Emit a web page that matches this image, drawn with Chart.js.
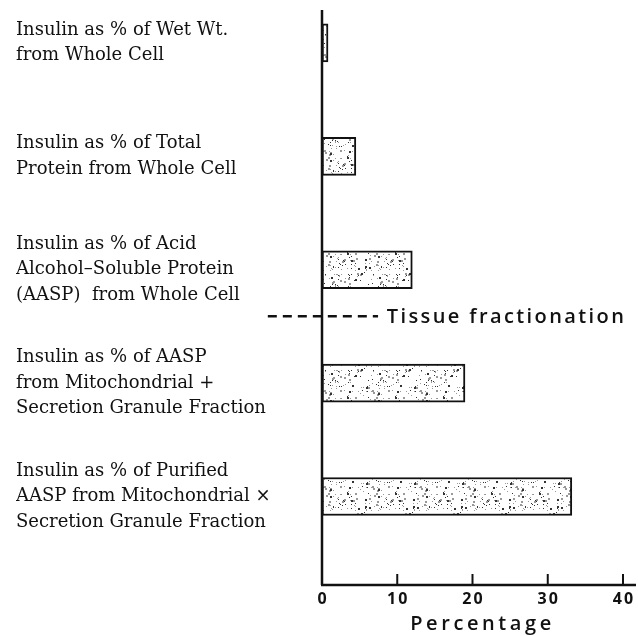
<!DOCTYPE html>
<html><head><meta charset="utf-8">
<script src="https://cdn.jsdelivr.net/npm/chart.js@4"></script>
<style>html,body{margin:0;padding:0;background:#fff}#wrap{width:638px;height:636px}</style>
</head><body><div id="wrap"><canvas id="c" width="638" height="636"></canvas></div>
<script>
const categories = [
  ["Insulin as % of Wet Wt.", "from Whole Cell"],
  ["Insulin as % of Total", "Protein from Whole Cell"],
  ["Insulin as % of Acid", "Alcohol–Soluble Protein", "(AASP)  from Whole Cell"],
  ["Insulin as % of AASP", "from Mitochondrial +", "Secretion Granule Fraction"],
  ["Insulin as % of Purified", "AASP from Mitochondrial ×", "Secretion Granule Fraction"]
];
const percentages = [0.8, 4.5, 12, 19, 33.2];
const xTickValues = [0, 10, 20, 30, 40];
const xTitle = "Percentage";
const dividerLabel = "Tissue fractionation";

const canvas = document.getElementById('c');
const ctx0 = canvas.getContext('2d');
const SANS = '"Open Sans", "DejaVu Sans", sans-serif';

function stipple() {
  const c = document.createElement('canvas');
  c.width = 48; c.height = 48;
  const g = c.getContext('2d');
  g.fillStyle = '#fff'; g.fillRect(0, 0, 48, 48);
  let s = 12345;
  const r = () => { s = (s * 16807) % 2147483647; return s / 2147483647; };
  for (let i = 0; i < 150; i++) {
    const px = Math.floor(r() * 48), py = Math.floor(r() * 48);
    const dark = r() < 0.35;
    g.fillStyle = dark ? '#333' : '#999';
    const d = r() < 0.25 ? 2 : 1;
    g.fillRect(px, py, d, d);
  }
  return ctx0.createPattern(c, 'repeat');
}

const axesPlugin = {
  id: 'axesDeco',
  afterLayout(chart) {
    const s = chart.scales.x;
    if (!s._wrapped) {
      s._wrapped = true;
      const dl = s.drawLabels, dt = s.drawTitle;
      s.drawLabels = function (a) { const c = this.ctx; c.save(); c.letterSpacing = '2px'; c.translate(1, 0); dl.call(this, a); c.restore(); };
      s.drawTitle = function () { const c = this.ctx; c.save(); c.letterSpacing = '3.6px'; c.translate(10, 0); dt.call(this); c.restore(); };
    }
  },
  afterDraw(chart, args, opts) {
    const { ctx, chartArea: a, scales: { x, y } } = chart;
    ctx.save();
    ctx.strokeStyle = '#111';
    ctx.lineWidth = 2.5;
    ctx.beginPath();
    ctx.moveTo(a.left, a.top); ctx.lineTo(a.left, a.bottom);
    ctx.moveTo(a.left - 1, a.bottom); ctx.lineTo(a.right + 13, a.bottom);
    ctx.stroke();
    ctx.lineWidth = 2;
    xTickValues.forEach(v => {
      if (v === 0) return;
      const px = x.getPixelForValue(v);
      ctx.beginPath(); ctx.moveTo(px, a.bottom); ctx.lineTo(px, a.bottom - 11); ctx.stroke();
    });
    const dy = y.getPixelForValue(opts.at);
    ctx.lineWidth = 2.5;
    ctx.setLineDash([9, 6]);
    ctx.beginPath();
    ctx.moveTo(x.getPixelForValue(opts.from), dy);
    ctx.lineTo(x.getPixelForValue(opts.to), dy);
    ctx.stroke();
    ctx.setLineDash([]);
    ctx.font = '600 20px ' + SANS;
    ctx.letterSpacing = '2.4px';
    ctx.fillStyle = '#111';
    ctx.textBaseline = 'middle';
    ctx.textAlign = 'left';
    ctx.fillText(dividerLabel, x.getPixelForValue(opts.textAt), dy + 1);
    ctx.restore();
  }
};

new Chart(canvas, {
  type: 'bar',
  data: {
    datasets: [{
      data: percentages.map((v, i) => ({ x: v, y: i + 1 })),
      backgroundColor: stipple(),
      borderColor: '#111',
      borderWidth: 2,
      borderSkipped: false,
      barThickness: 38
    }]
  },
  options: {
    indexAxis: 'y',
    responsive: false,
    animation: false,
    devicePixelRatio: 1,
    layout: { padding: { left: 16, top: 10, right: 15, bottom: 0 } },
    plugins: {
      legend: { display: false },
      tooltip: { enabled: false },
      axesDeco: { at: 3.41, from: -7.2, to: 7.45, textAt: 8.6 }
    },
    scales: {
      x: {
        type: 'linear', min: 0, max: 40, offset: false,
        afterBuildTicks: s => { s.ticks = xTickValues.map(v => ({ value: v })); },
        grid: { display: false, drawTicks: false },
        border: { display: false },
        ticks: { padding: 5, color: '#111', font: { family: SANS, size: 16, weight: 'bold' } },
        title: { display: true, text: xTitle, color: '#111', font: { family: SANS, size: 20, weight: '600' }, padding: { top: 0, bottom: 0 } },
        afterFit: s => { s.height = 51; s.paddingLeft = 0; s.paddingRight = 0; }
      },
      y: {
        type: 'linear', reverse: true, min: 0.71, max: 5.78, offset: false,
        afterBuildTicks: s => { s.ticks = categories.map((_, i) => ({ value: i + 1 })); },
        grid: { display: false, drawTicks: false, offset: false },
        border: { display: false },
        ticks: {
          autoSkip: false, crossAlign: 'far', padding: 0, color: '#111',
          font: { family: '"DejaVu Serif"', size: 18, lineHeight: 1.42 },
          callback: v => categories[Math.round(v) - 1] || ''
        },
        afterFit: s => { s.width = 322 - 16; s.paddingTop = 0; s.paddingBottom = 0; }
      }
    }
  },
  plugins: [axesPlugin]
});
</script>
</body></html>
